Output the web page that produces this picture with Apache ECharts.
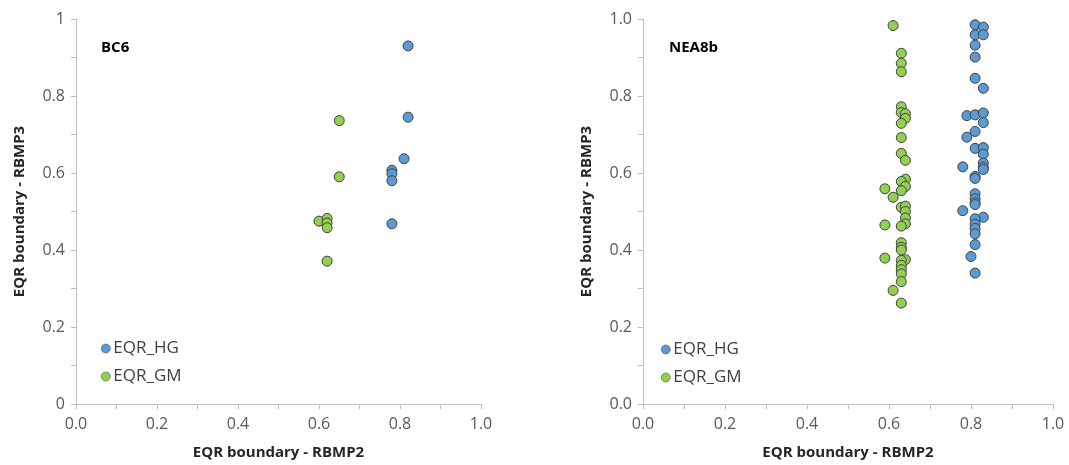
<!DOCTYPE html>
<html>
<head>
<meta charset="utf-8">
<script src="https://cdn.jsdelivr.net/npm/echarts@6/dist/echarts.min.js"></script>
<style>
html,body{margin:0;padding:0;background:#fff;}
#chart{width:1069px;height:465px;}
</style>
</head>
<body>
<div id="chart"></div>
<script>
// BC6 panel: [RBMP2, RBMP3]
var bc6HG = [[0.82,0.93],[0.82,0.745],[0.81,0.637],[0.78,0.607],[0.78,0.598],[0.78,0.58],[0.78,0.468]];
var bc6GM = [[0.65,0.736],[0.65,0.59],[0.60,0.475],[0.62,0.482],[0.62,0.47],[0.62,0.458],[0.62,0.371]];

// NEA8b panel
var neaHG = [
  [0.81,0.985],[0.83,0.979],[0.81,0.959],[0.83,0.959],[0.81,0.932],[0.81,0.901],[0.81,0.846],[0.83,0.82],
  [0.79,0.749],[0.81,0.751],[0.83,0.756],[0.83,0.731],[0.79,0.693],[0.81,0.708],[0.81,0.664],[0.83,0.666],
  [0.83,0.649],[0.83,0.626],[0.83,0.615],[0.83,0.609],[0.78,0.616],[0.81,0.591],[0.81,0.586],[0.81,0.546],
  [0.81,0.533],[0.81,0.523],[0.81,0.518],[0.78,0.502],[0.83,0.485],[0.81,0.481],[0.81,0.467],[0.81,0.456],
  [0.81,0.442],[0.81,0.414],[0.80,0.383],[0.81,0.34]
];
var neaGM = [
  [0.61,0.983],[0.63,0.911],[0.63,0.885],[0.63,0.863],[0.63,0.772],[0.63,0.757],[0.64,0.754],[0.64,0.742],
  [0.63,0.729],[0.63,0.692],[0.63,0.651],[0.64,0.633],[0.64,0.584],[0.63,0.578],[0.64,0.565],[0.63,0.554],
  [0.59,0.559],[0.61,0.537],[0.63,0.511],[0.64,0.514],[0.64,0.50],[0.64,0.483],[0.64,0.468],[0.63,0.462],
  [0.59,0.465],[0.63,0.419],[0.63,0.407],[0.63,0.40],[0.59,0.379],[0.64,0.375],[0.63,0.373],[0.63,0.36],
  [0.63,0.349],[0.63,0.338],[0.63,0.318],[0.61,0.295],[0.63,0.262]
];

var seriesNames = ['EQR_HG', 'EQR_GM'];
var colors = ['#5b9bd5', '#92d050'];

var font = '"Open Sans", "Liberation Sans", sans-serif';
var axisGrey = '#bfbfbf';

function makeX(idx) {
  return {
    gridIndex: idx, type: 'value', min: 0, max: 1, interval: 0.2,
    name: 'EQR boundary - RBMP2', nameLocation: 'middle', nameGap: 41,
    nameTextStyle: {fontFamily: font, fontWeight: 'bold', fontSize: 15, color: '#262626'},
    axisLine: {show: true, lineStyle: {color: axisGrey}},
    axisTick: {show: true, length: 5, lineStyle: {color: axisGrey}},
    minorTick: {show: true, splitNumber: 2, length: 5, lineStyle: {color: axisGrey}},
    splitLine: {show: false},
    axisLabel: {fontFamily: font, fontSize: 16, color: '#595959', margin: 12,
      formatter: function (v) { return v.toFixed(1); }}
  };
}
function makeY(idx, fmt) {
  return {
    gridIndex: idx, type: 'value', min: 0, max: 1, interval: 0.2,
    name: 'EQR boundary - RBMP3', nameLocation: 'middle', nameGap: 49,
    nameTextStyle: {fontFamily: font, fontWeight: 'bold', fontSize: 15, color: '#262626'},
    axisLine: {show: true, lineStyle: {color: axisGrey}},
    axisTick: {show: true, length: 5, lineStyle: {color: axisGrey}},
    minorTick: {show: true, splitNumber: 2, length: 5, lineStyle: {color: axisGrey}},
    splitLine: {show: false},
    axisLabel: {fontFamily: font, fontSize: 16, color: '#595959', margin: 11, formatter: fmt}
  };
}
function makeSeries(name, data, idx, ci) {
  return {
    name: name, type: 'scatter', xAxisIndex: idx, yAxisIndex: idx,
    data: data, symbolSize: 10,
    itemStyle: {color: colors[ci], borderColor: '#404040', borderWidth: 1, opacity: 1}
  };
}
function makeLegend(left, top) {
  return {
    orient: 'vertical', left: left, top: top, itemGap: 11,
    icon: 'circle', itemWidth: 9, itemHeight: 9,
    textStyle: {fontFamily: font, fontSize: 17, color: '#404040', padding: [0, 0, 0, -2]},
    data: seriesNames.map(function (n, i) {
      return {name: n, itemStyle: {color: colors[i], borderColor: '#505050', borderWidth: 0.6}};
    })
  };
}

var chart = echarts.init(document.getElementById('chart'));
chart.setOption({
  animation: false,
  title: [
    {text: 'BC6', left: 96, top: 35, textStyle: {fontFamily: font, fontWeight: 'bold', fontSize: 15, color: '#000'}},
    {text: 'NEA8b', left: 664, top: 35, textStyle: {fontFamily: font, fontWeight: 'bold', fontSize: 15, color: '#000'}}
  ],
  legend: [makeLegend(96, 335), makeLegend(656, 336)],
  grid: [
    {left: 76, top: 19, width: 405, height: 393},
    {left: 643, top: 19, width: 410, height: 395}
  ],
  xAxis: [makeX(0), makeX(1)],
  yAxis: [
    makeY(0, function (v) { return String(Math.round(v * 10) / 10); }),
    makeY(1, function (v) { return v.toFixed(1); })
  ],
  series: [
    makeSeries('EQR_HG', bc6HG, 0, 0),
    makeSeries('EQR_GM', bc6GM, 0, 1),
    makeSeries('EQR_HG', neaHG, 1, 0),
    makeSeries('EQR_GM', neaGM, 1, 1)
  ]
});
</script>
</body>
</html>
